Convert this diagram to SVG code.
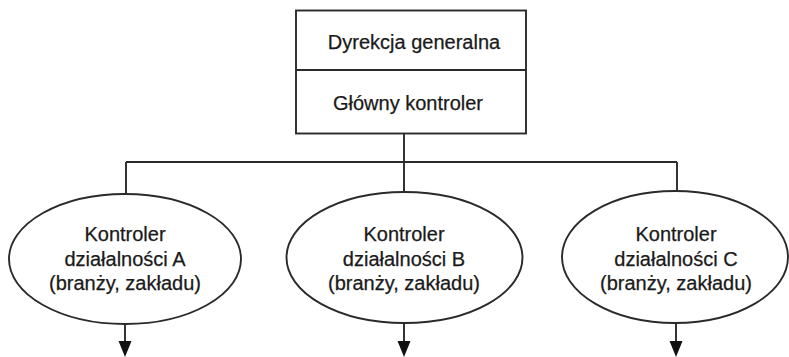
<svg xmlns="http://www.w3.org/2000/svg" width="789" height="357" viewBox="0 0 789 357">
<defs>
<style>
.box{fill:#fff;stroke:#2a2a2a;stroke-width:1.9}
.conn{fill:none;stroke:#2a2a2a;stroke-width:1.9}
.head{fill:#111}
text{font-family:"Liberation Sans",Arial,sans-serif;font-size:20px;fill:#1a1a1a;stroke:#1a1a1a;stroke-width:0.25;text-anchor:middle}
</style>
</defs>
<rect width="789" height="357" fill="#fff"/>
<g id="connectors">
<path class="conn" d="M404,133 V192"/>
<path class="conn" d="M126,162 H677"/>
<path class="conn" d="M126,162 V194"/>
<path class="conn" d="M677,162 V191"/>
<path class="conn" d="M125,324 V350"/>
<path class="conn" d="M404,323 V350"/>
<path class="conn" d="M676,323 V350"/>
<path class="head" d="M118.5,341 L131.5,341 L125,357 Z"/>
<path class="head" d="M397.5,341 L410.5,341 L404,357 Z"/>
<path class="head" d="M669.5,341 L682.5,341 L676,357 Z"/>
</g>
<g id="top">
<rect class="box" x="296" y="10.5" width="230" height="123"/>
<line class="conn" x1="296" y1="70" x2="526" y2="70"/>
<text x="414" y="49">Dyrekcja generalna</text>
<text x="408" y="110">Główny kontroler</text>
</g>
<g id="nodeA">
<ellipse class="box" cx="125" cy="259" rx="116" ry="65"/>
<text x="125" y="241">Kontroler</text>
<text x="125" y="266">działalności A</text>
<text x="125" y="290">(branży, zakładu)</text>
</g>
<g id="nodeB">
<ellipse class="box" cx="404.5" cy="257.5" rx="118" ry="65.5"/>
<text x="404" y="241">Kontroler</text>
<text x="404" y="266">działalności B</text>
<text x="404" y="290">(branży, zakładu)</text>
</g>
<g id="nodeC">
<ellipse class="box" cx="675" cy="257" rx="113" ry="66"/>
<text x="676" y="241">Kontroler</text>
<text x="676" y="266">działalności C</text>
<text x="676" y="290">(branży, zakładu)</text>
</g>
</svg>
